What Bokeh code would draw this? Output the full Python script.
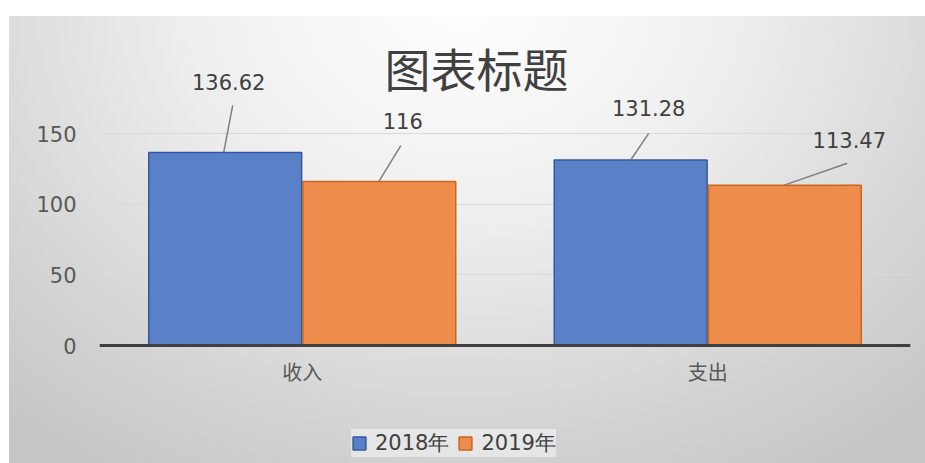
from bokeh.plotting import figure
from bokeh.models import Range1d, FixedTicker, ColumnDataSource, Legend, LegendItem
from bokeh.core.properties import value
from bokeh.embed import file_html
from bokeh.resources import INLINE

# ---- data ----
categories = ["收入", "支出"]
series_names = ["2018年", "2019年"]
values_2018 = [136.62, 131.28]
values_2019 = [116, 113.47]
y_ticks = [0, 50, 100, 150]
title_text = "图表标题"

# ---- layout constants ----
W, H = 925, 463
B_LEFT, B_RIGHT, B_TOP, B_BOTTOM = 99, 15, 16, 0
ZERO_FROM_BOTTOM = 118            # pixels between the zero line and the canvas bottom
frame_w = W - B_LEFT - B_RIGHT
frame_h = H - B_TOP - B_BOTTOM
px_y = 212 / 150                  # pixels per y unit
px_x = frame_w / len(categories)  # pixels per x unit
y_start = -ZERO_FROM_BOTTOM / px_y
y_end = (frame_h - ZERO_FROM_BOTTOM) / px_y

NUM_FONT = "DejaVu Sans"
CJK_FONT = "Noto Sans CJK SC"
TEXT_COLOR = "#404040"
LABEL_COLOR = "#595959"

p = figure(frame_width=frame_w, frame_height=frame_h,
           x_range=Range1d(0, len(categories)), y_range=Range1d(y_start, y_end),
           output_backend="svg", toolbar_location=None,
           min_border_left=B_LEFT, min_border_right=B_RIGHT,
           min_border_top=B_TOP, min_border_bottom=B_BOTTOM)
p.background_fill_alpha = 0
p.border_fill_alpha = 0
p.outline_line_color = None
p.styles = {"background": "linear-gradient(to right, #ffffff 0px, #ffffff 9px, transparent 9px), "
                          "linear-gradient(#ffffff 0px, #ffffff 16px, transparent 16px), "
                          "radial-gradient(ellipse 75% 120% at 50% 0%, #ffffff 0%, #eeeeee 40%, #d2d2d2 80%, #c6c6c6 100%)"}

# grid
p.xgrid.grid_line_color = None
p.ygrid.ticker = FixedTicker(ticks=y_ticks)
p.ygrid.grid_line_color = "#d9d9d9"
p.ygrid.grid_line_width = 1

# bars
offset = 0.19
bar_w = 0.377
centers = [i + 0.5 for i in range(len(categories))]
x18 = [c - offset for c in centers]
x19 = [c + offset for c in centers]
src18 = ColumnDataSource(dict(x=x18, top=values_2018))
src19 = ColumnDataSource(dict(x=x19, top=values_2019))
r18 = p.vbar(x="x", top="top", bottom=0, width=bar_w, source=src18,
             fill_color="#5A80C8", line_color="#35599E", line_width=1.5)
r19 = p.vbar(x="x", top="top", bottom=0, width=bar_w, source=src19,
             fill_color="#EE8C4C", line_color="#C9661F", line_width=1.5)

# data labels with leader lines (offsets in pixels relative to bar top-center)
bar_x = [x18[0], x19[0], x18[1], x19[1]]
bar_v = [values_2018[0], values_2019[0], values_2018[1], values_2019[1]]
lab_dx = [3.5, 23.5, 18, 64.5]
lab_dy = [70, 61, 51.6, 45]
lead_x0 = [-1.5, -0.5, 0, -0.5]
lead_x1 = [7.5, 21.5, 18, 62.5]
lead_y1 = [47, 36, 26.6, 21.8]

def fmt(v):
    return ("%g" % v)

lab_src = ColumnDataSource(dict(
    x=[bx + dx / px_x for bx, dx in zip(bar_x, lab_dx)],
    y=[v + dy / px_y for v, dy in zip(bar_v, lab_dy)],
    t=[fmt(v) for v in bar_v]))
lead_src = ColumnDataSource(dict(
    x0=[bx + d / px_x for bx, d in zip(bar_x, lead_x0)],
    y0=bar_v,
    x1=[bx + d / px_x for bx, d in zip(bar_x, lead_x1)],
    y1=[v + d / px_y for v, d in zip(bar_v, lead_y1)]))
p.segment(x0="x0", y0="y0", x1="x1", y1="y1", source=lead_src,
          line_color="#7f7f7f", line_width=1.5)
p.text(x="x", y="y", text="t", source=lab_src, text_font=value(NUM_FONT),
       text_font_size="21px", text_color=TEXT_COLOR,
       text_align="center", text_baseline="middle")

# title
p.text(x=[(476 - B_LEFT) / px_x], y=[(345 - 66) / px_y], text=[title_text],
       text_font=value(CJK_FONT), text_font_size="46px", text_color=TEXT_COLOR,
       text_align="center", text_baseline="middle")

# axes: x axis pinned at y = 0 inside the frame
p.xaxis.fixed_location = 0
p.xaxis.ticker = FixedTicker(ticks=centers)
p.xaxis.major_label_overrides = {c: lab for c, lab in zip(centers, categories)}
p.xaxis.axis_line_color = "#404040"
p.xaxis.axis_line_width = 3
p.xaxis.major_tick_line_color = None
p.xaxis.minor_tick_line_color = None
p.xaxis.major_label_standoff = 5
p.xaxis.major_label_text_font = CJK_FONT
p.xaxis.major_label_text_font_size = "20px"
p.xaxis.major_label_text_color = LABEL_COLOR

p.yaxis.ticker = FixedTicker(ticks=y_ticks)
p.yaxis.axis_line_color = None
p.yaxis.major_tick_line_color = None
p.yaxis.minor_tick_line_color = None
p.yaxis.major_label_standoff = 17
p.yaxis.major_label_text_font = NUM_FONT
p.yaxis.major_label_text_font_size = "21px"
p.yaxis.major_label_text_color = LABEL_COLOR

# legend inside the frame, below the category labels (bottom-left corner, screen px)
legend = Legend(items=[LegendItem(label=series_names[0], renderers=[r18]),
                       LegendItem(label=series_names[1], renderers=[r19])],
                orientation="horizontal", location=(252, 6))
legend.label_text_font = NUM_FONT
legend.label_text_font_size = "21px"
legend.label_text_color = TEXT_COLOR
legend.glyph_width = 16
legend.glyph_height = 16
legend.label_standoff = 8
legend.spacing = 8
legend.padding = 13
legend.margin = 0
legend.border_line_color = None
legend.background_fill_color = "#ffffff"
legend.background_fill_alpha = 0.45
p.add_layout(legend)

open("out.html", "w").write(file_html(p, INLINE))
